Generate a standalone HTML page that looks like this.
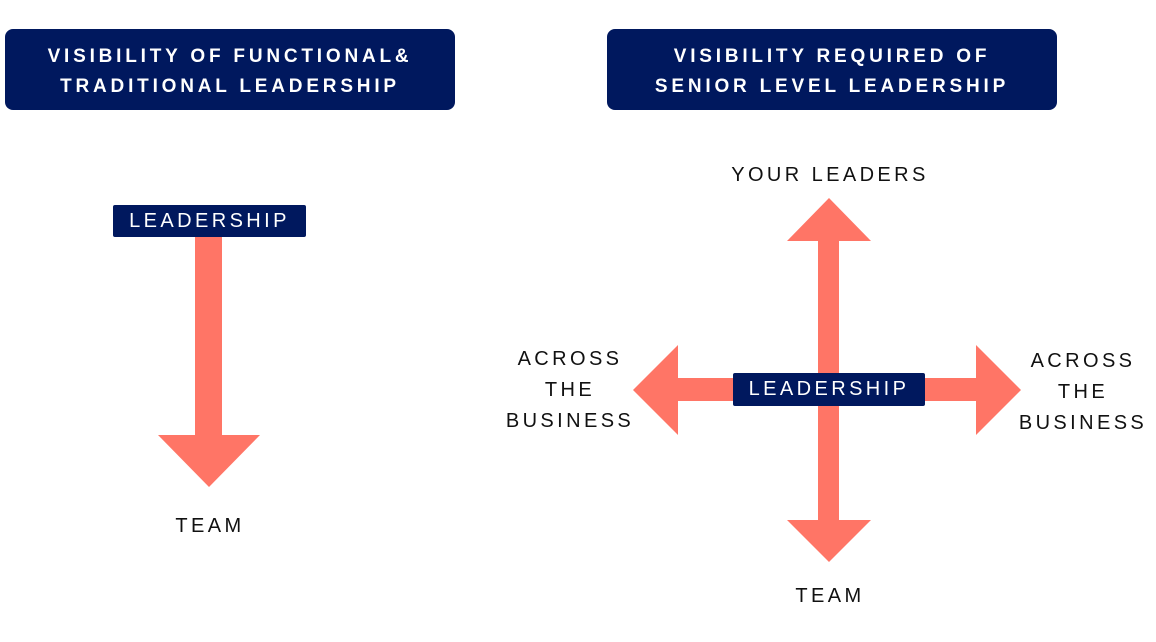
<!DOCTYPE html>
<html><head><meta charset="utf-8"><style>
body{margin:0;width:1156px;height:642px;background:#fff;overflow:hidden;position:relative;font-family:"Liberation Sans",sans-serif}
.hd{position:absolute;background:#00185e;border-radius:8px;color:#fff;font-weight:bold;font-size:19px;letter-spacing:3.8px;text-align:center;line-height:30px;box-sizing:border-box;padding-top:13px}
.lb{position:absolute;color:#111;font-size:20px;letter-spacing:3.4px;text-align:center;line-height:31px}
.lead{position:absolute;background:#00185e;color:#fff;font-size:20px;letter-spacing:3.4px;text-align:center;border-radius:2px}
</style></head><body>
<div class="hd" style="left:5px;top:29px;width:450px;height:81px">VISIBILITY OF FUNCTIONAL&amp;<br>TRADITIONAL LEADERSHIP</div>
<div class="hd" style="left:607px;top:29px;width:450px;height:81px">VISIBILITY REQUIRED OF<br>SENIOR LEVEL LEADERSHIP</div>
<svg width="1156" height="642" style="position:absolute;left:0;top:0">
<g fill="#ff7566">
<rect x="195" y="237" width="27" height="199"/>
<polygon points="158,435 260,435 209,487"/>
<rect x="818" y="240" width="21" height="281"/>
<polygon points="787,241 871,241 829,198"/>
<polygon points="787,520 871,520 829,562"/>
<rect x="677" y="378" width="300" height="23"/>
<polygon points="678,345 678,435 633,390"/>
<polygon points="976,345 976,435 1021,390"/>
</g>
</svg>
<div class="lead" style="left:113px;top:205px;width:193px;height:32px;line-height:32px">LEADERSHIP</div>
<div class="lead" style="left:733px;top:373px;width:192px;height:33px;line-height:33px">LEADERSHIP</div>
<div class="lb" style="left:700px;top:160px;width:260px">YOUR LEADERS</div>
<div class="lb" style="left:490px;top:344px;width:160px">ACROSS<br>THE<br>BUSINESS</div>
<div class="lb" style="left:1003px;top:346px;width:160px">ACROSS<br>THE<br>BUSINESS</div>
<div class="lb" style="left:130px;top:511px;width:160px">TEAM</div>
<div class="lb" style="left:750px;top:581px;width:160px">TEAM</div>
</body></html>
